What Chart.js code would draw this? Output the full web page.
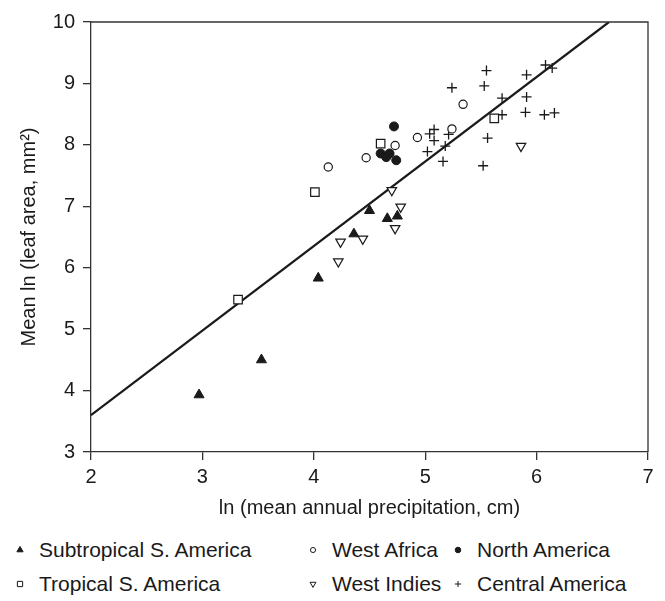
<!DOCTYPE html>
<html>
<head>
<meta charset="utf-8">
<script src="https://cdn.jsdelivr.net/npm/chart.js@4.4.1/dist/chart.umd.min.js"></script>
<style>
  html, body { margin: 0; padding: 0; background: #fff; }
  #wrap { position: relative; width: 665px; height: 601px; font-family: "Liberation Sans", Arial, sans-serif; color: #1a1a1a; }
  #chart { position: absolute; left: 0; top: 0; }
  .leg { position: absolute; font-size: 21px; line-height: 24px; white-space: nowrap; }
  .leg canvas { position: absolute; left: 0; top: 5px; }
  .leg span { position: absolute; left: 26px; top: 0; }
</style>
</head>
<body>
<div id="wrap">
  <canvas id="chart" width="665" height="530"></canvas>
  <div id="legend"></div>
</div>
<script>
// Leaf size versus rainfall, by region (natural-log scales)
const seriesNames = ['Subtropical S. America', 'Tropical S. America', 'West Africa', 'West Indies', 'North America', 'Central America'];

const subtropicalX = [2.97, 3.53, 4.04, 4.36, 4.50, 4.66, 4.75];
const subtropicalY = [3.93, 4.50, 5.83, 6.55, 6.93, 6.80, 6.84];

const tropicalX = [3.32, 4.01, 4.60, 5.62];
const tropicalY = [5.48, 7.23, 8.02, 8.43];

const westAfricaX = [4.13, 4.47, 4.73, 4.93, 5.24, 5.34];
const westAfricaY = [7.64, 7.79, 7.99, 8.12, 8.26, 8.66];

const westIndiesX = [4.22, 4.24, 4.44, 4.70, 4.73, 4.78, 5.86];
const westIndiesY = [6.10, 6.42, 6.47, 7.26, 6.64, 6.99, 7.98];

const northAmericaX = [4.60, 4.65, 4.68, 4.72, 4.74];
const northAmericaY = [7.86, 7.80, 7.86, 8.30, 7.75];

const centralAmericaX = [5.02, 5.04, 5.08, 5.08, 5.16, 5.18, 5.21, 5.24, 5.52, 5.53, 5.55, 5.56, 5.69, 5.69, 5.90, 5.91, 5.91, 6.07, 6.08, 6.14, 6.16];
const centralAmericaY = [7.89, 8.18, 8.25, 8.07, 7.73, 7.98, 8.17, 8.93, 7.66, 8.96, 9.21, 8.11, 8.76, 8.49, 8.53, 9.14, 8.78, 8.49, 9.30, 9.25, 8.52];

// fitted regression line, end points
const fitX = [2.0, 6.65];
const fitY = [3.6, 10.0];

const xTicks = [2, 3, 4, 5, 6, 7];
const yTicks = [3, 4, 5, 6, 7, 8, 9, 10];

const xTitle = 'ln (mean annual precipitation, cm)';
const yTitle = 'Mean ln (leaf area, mm\u00B2)';

const INK = '#1a1a1a';
const AXIS = '#333333';
const FONT = '"Liberation Sans", Arial, sans-serif';

function pts(xs, ys) { return xs.map((x, i) => ({ x: x, y: ys[i] })); }

// marker styling per series (same order as seriesNames)
const markers = [
  { style: 'triangle', rot: 0,   r: 5.8, fill: INK,    border: INK, bw: 1 },
  { style: 'rect',     rot: 0,   r: 6.0, fill: '#fff', border: INK, bw: 1.2 },
  { style: 'circle',   rot: 0,   r: 4.1, fill: '#fff', border: INK, bw: 1.2 },
  { style: 'triangle', rot: 180, r: 5.5, fill: '#fff', border: INK, bw: 1.2 },
  { style: 'circle',   rot: 0,   r: 4.5, fill: INK,    border: INK, bw: 1 },
  { style: 'cross',    rot: 0,   r: 5.0, fill: INK,    border: INK, bw: 1.3 }
];

const seriesData = [
  pts(subtropicalX, subtropicalY),
  pts(tropicalX, tropicalY),
  pts(westAfricaX, westAfricaY),
  pts(westIndiesX, westIndiesY),
  pts(northAmericaX, northAmericaY),
  pts(centralAmericaX, centralAmericaY)
];

const datasets = seriesNames.map((name, i) => ({
  type: 'scatter',
  label: name,
  data: seriesData[i],
  pointStyle: markers[i].style,
  rotation: markers[i].rot,
  pointRadius: markers[i].r,
  pointHoverRadius: markers[i].r,
  backgroundColor: markers[i].fill,
  borderColor: markers[i].border,
  borderWidth: markers[i].bw
}));

datasets.push({
  type: 'line',
  label: 'fit',
  data: pts(fitX, fitY),
  borderColor: INK,
  borderWidth: 2.2,
  pointRadius: 0,
  fill: false,
  tension: 0
});

// closes the plot frame on the top and right sides
const frame = {
  id: 'frame',
  afterDraw(chart) {
    const { ctx, chartArea: a } = chart;
    ctx.save();
    ctx.strokeStyle = AXIS;
    ctx.lineWidth = 1.3;
    ctx.beginPath();
    ctx.moveTo(a.left, a.top);
    ctx.lineTo(a.right, a.top);
    ctx.lineTo(a.right, a.bottom);
    ctx.stroke();
    ctx.restore();
  }
};

const textFont = { family: FONT, size: 20 };

new Chart(document.getElementById('chart'), {
  data: { datasets: datasets },
  options: {
    responsive: false,
    animation: false,
    devicePixelRatio: 1,
    layout: { padding: { left: 0, right: 17, top: 22, bottom: 0 } },
    plugins: { legend: { display: false }, tooltip: { enabled: false } },
    scales: {
      x: {
        type: 'linear',
        min: xTicks[0],
        max: xTicks[xTicks.length - 1],
        afterBuildTicks(s) { s.ticks = xTicks.map(v => ({ value: v })); },
        afterFit(s) { s.height = 78; },
        grid: { drawOnChartArea: false, drawTicks: true, tickLength: 8, color: AXIS, lineWidth: 1.3 },
        border: { display: true, color: AXIS, width: 1.3 },
        ticks: { color: INK, font: textFont, padding: 5, maxRotation: 0 },
        title: { display: true, text: xTitle, color: INK, font: textFont, padding: { top: 0, bottom: 10 } }
      },
      y: {
        type: 'linear',
        min: yTicks[0],
        max: yTicks[yTicks.length - 1],
        afterBuildTicks(s) { s.ticks = yTicks.map(v => ({ value: v })); },
        afterFit(s) { s.width = 91; },
        grid: { drawOnChartArea: false, drawTicks: true, tickLength: 8, color: AXIS, lineWidth: 1.3 },
        border: { display: true, color: AXIS, width: 1.3 },
        ticks: { color: INK, font: textFont, padding: 8 },
        title: { display: true, text: yTitle, color: INK, font: textFont, padding: { top: 17, bottom: 0 } }
      }
    }
  },
  plugins: [frame]
});

// legend below the plot: three columns, two rows
const legendOrder = [0, 2, 4, 1, 3, 5];
const colX = [13, 306, 451];
const rowY = [538, 572];
const legendBox = document.getElementById('legend');
legendOrder.forEach((si, k) => {
  const col = k % 3, row = Math.floor(k / 3);
  const item = document.createElement('div');
  item.className = 'leg';
  item.style.left = colX[col] + 'px';
  item.style.top = rowY[row] + 'px';
  const c = document.createElement('canvas');
  c.width = 14; c.height = 14;
  const m = markers[si];
  const g = c.getContext('2d');
  g.fillStyle = m.fill;
  g.strokeStyle = m.border;
  g.lineWidth = 1;
  Chart.helpers.drawPoint(g, { pointStyle: m.style, rotation: m.rot, radius: m.r * 0.62, borderWidth: 1 }, 7, 7);
  const t = document.createElement('span');
  t.textContent = seriesNames[si];
  item.appendChild(c);
  item.appendChild(t);
  legendBox.appendChild(item);
});
</script>
</body>
</html>
